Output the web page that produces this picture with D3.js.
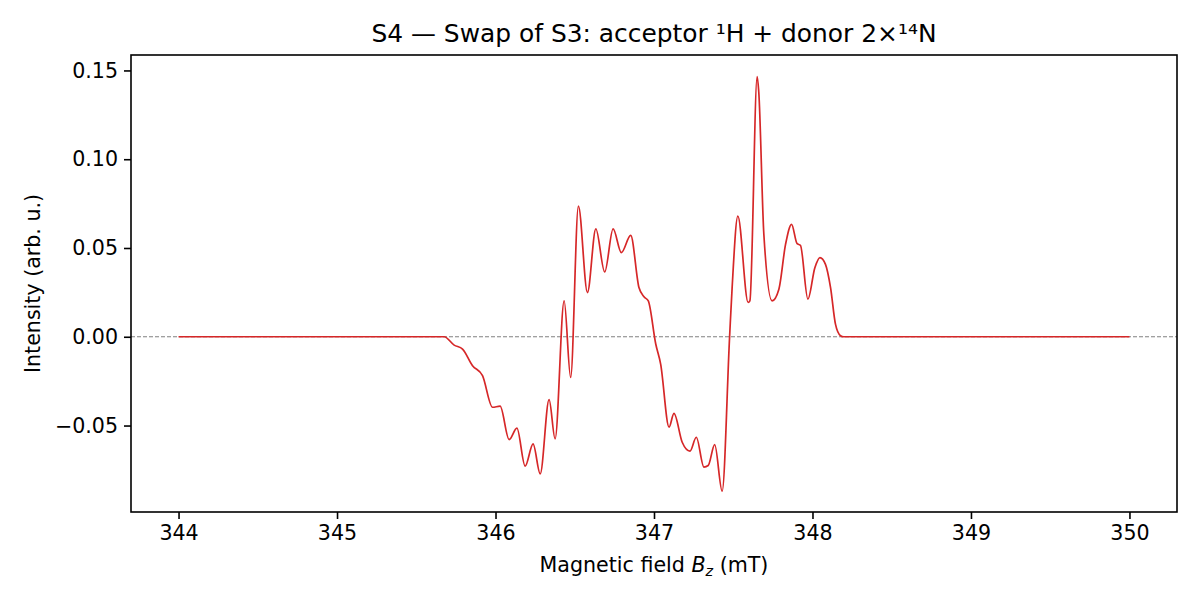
<!DOCTYPE html>
<html>
<head>
<meta charset="utf-8">
<script src="https://cdn.jsdelivr.net/npm/d3@7"></script>
<style>
  body { margin: 0; background: #fff; }
  text { font-family: "DejaVu Sans", sans-serif; }
</style>
</head>
<body>
<svg id="chart" width="1200" height="600"></svg>
<script>
// field values (mT) and intensities
var field = [344.000, 345.676, 345.739, 345.792, 345.855, 345.918, 345.981, 346.029, 346.086, 346.135,
  346.187, 346.237, 346.282, 346.338, 346.376, 346.433, 346.474, 346.523, 346.580, 346.633,
  346.689, 346.742, 346.794, 346.853, 346.905, 346.937, 346.964, 347.011, 347.042, 347.095,
  347.126, 347.178, 347.227, 347.267, 347.315, 347.342, 347.383, 347.430, 347.477, 347.493,
  347.529, 347.594, 347.605, 347.651, 347.661, 347.693, 347.745, 347.788, 347.830, 347.868,
  347.903, 347.924, 347.971, 348.015, 348.047, 348.082, 348.114, 348.145, 348.177, 348.197, 350.000];
var intensity = [0, 0, -0.0047, -0.0069, -0.0163, -0.0219, -0.0397, -0.0391, -0.0579, -0.0515,
  -0.0729, -0.0603, -0.0772, -0.0354, -0.0575, 0.0202, -0.0229, 0.0736, 0.0249, 0.0608,
  0.0365, 0.0608, 0.0474, 0.0571, 0.0277, 0.0225, 0.0202, -0.0041, -0.0154, -0.0509,
  -0.0431, -0.0594, -0.0644, -0.0566, -0.0734, -0.0725, -0.0607, -0.0869, 0, 0.0277,
  0.068, 0.0193, 0.0202, 0.1466, 0.138, 0.0579, 0.0202, 0.0268, 0.052, 0.0633,
  0.0524, 0.0515, 0.0212, 0.0389, 0.0446, 0.0408, 0.0277, 0.0071, 0.0006, 0, 0];
var xTicks = [344, 345, 346, 347, 348, 349, 350];
var yTicks = [-0.05, 0.00, 0.05, 0.10, 0.15];

var margin = { left: 131, right: 23, top: 55, bottom: 88 };
var W = 1200, H = 600;
var tickFont = "20.6px";
var svg = d3.select("#chart");

var x = d3.scaleLinear().domain([343.7, 350.3]).range([margin.left, W - margin.right]);
var y = d3.scaleLinear().domain([-0.0987, 0.1587]).range([H - margin.bottom, margin.top]);

var pts = field.map(function (f, i) { return [f, intensity[i]]; });

// zero reference line
svg.append("line")
  .attr("x1", x.range()[0]).attr("x2", x.range()[1])
  .attr("y1", y(0)).attr("y2", y(0))
  .style("stroke", "#808080")
  .style("stroke-width", 1)
  .style("stroke-dasharray", "4,2");

var line = d3.line()
  .x(function (d) { return x(d[0]); })
  .y(function (d) { return y(d[1]); })
  .curve(d3.curveMonotoneX);

svg.append("path")
  .datum(pts)
  .attr("d", line)
  .style("fill", "none")
  .style("stroke", "#d62728")
  .style("stroke-width", 1.7);

// axes
var xAxis = svg.append("g")
  .attr("transform", "translate(0," + (H - margin.bottom) + ")")
  .call(d3.axisBottom(x).tickValues(xTicks).tickFormat(d3.format("d")).tickSize(7).tickPadding(6));
var yAxis = svg.append("g")
  .attr("transform", "translate(" + margin.left + ",0)")
  .call(d3.axisLeft(y).tickValues(yTicks)
    .tickFormat(function (d) { return d < 0 ? "\u2212" + d3.format(".2f")(-d) : d3.format(".2f")(d); })
    .tickSize(7).tickPadding(6));
[xAxis, yAxis].forEach(function (a) {
  a.select(".domain").remove();
  a.selectAll("text").style("font-size", tickFont).style("fill", "#000");
  a.selectAll("line").style("stroke", "#000").style("stroke-width", 1.6);
});

// frame
svg.append("rect")
  .attr("x", margin.left).attr("y", margin.top)
  .attr("width", W - margin.left - margin.right)
  .attr("height", H - margin.top - margin.bottom)
  .style("fill", "none").style("stroke", "#000").style("stroke-width", 1.6);

// title
svg.append("text")
  .attr("x", (margin.left + W - margin.right) / 2).attr("y", 42)
  .attr("text-anchor", "middle")
  .style("font-size", "24.9px")
  .text("S4 \u2014 Swap of S3: acceptor \u00b9H + donor 2\u00d7\u00b9\u2074N");

// x label
var xl = svg.append("text")
  .attr("x", (margin.left + W - margin.right) / 2).attr("y", 572)
  .attr("text-anchor", "middle")
  .style("font-size", tickFont);
xl.append("tspan").text("Magnetic field ");
xl.append("tspan").style("font-style", "italic").text("B");
xl.append("tspan").style("font-style", "italic").style("font-size", "14.4px").attr("dy", 4).text("z");
xl.append("tspan").attr("dy", -4).text(" (mT)");

// y label
svg.append("text")
  .attr("transform", "translate(40," + ((margin.top + H - margin.bottom) / 2) + ") rotate(-90)")
  .attr("text-anchor", "middle")
  .style("font-size", tickFont)
  .text("Intensity (arb. u.)");
</script>
</body>
</html>
